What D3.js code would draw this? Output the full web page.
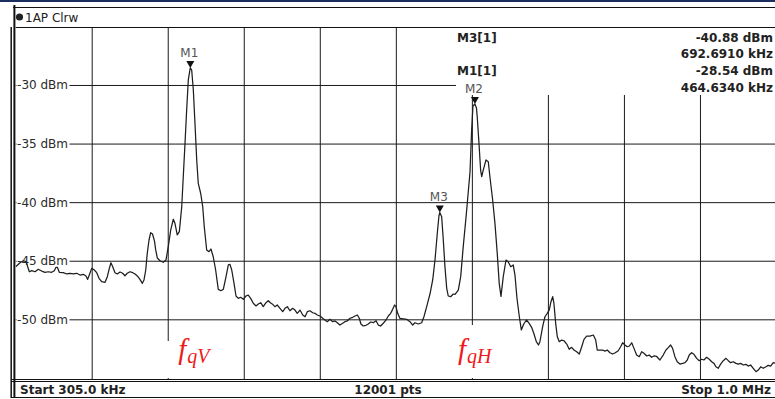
<!DOCTYPE html>
<html>
<head>
<meta charset="utf-8">
<script src="https://cdn.jsdelivr.net/npm/d3@7"></script>
<style>
  body { margin: 0; background: #fff; }
  svg { display: block; font-family: "DejaVu Sans", Verdana, sans-serif; }
</style>
</head>
<body>
<div id="chart"></div>
<script>
// Trace 1 (Clear/Write)
var freqKHz = [305.0, 309.0, 312.0, 314.5, 317.5, 319.7, 322.7, 325.7, 328.8, 331.8,
  334.8, 337.9, 340.3, 341.9, 343.1, 344.9, 348.5, 351.7, 354.7, 357.7,
  360.8, 363.8, 366.8, 369.3, 370.8, 372.3, 374.5, 376.9, 379.1, 381.2,
  383.6, 386.7, 388.8, 390.6, 392.1, 393.7, 395.8, 397.9, 400.4, 402.8,
  404.9, 407.0, 409.5, 412.0, 414.1, 416.2, 418.6, 420.8, 422.3, 423.9,
  425.3, 426.9, 428.4, 430.1, 431.9, 433.0, 434.5, 436.9, 439.9, 442.4,
  444.5, 446.7, 449.1, 450.6, 452.7, 454.6, 456.8, 458.2, 459.8, 461.3,
  462.8, 464.6, 465.9, 467.4, 468.9, 470.5, 471.9, 474.1, 476.0, 477.4,
  479.6, 481.7, 483.5, 485.6, 487.8, 490.2, 492.7, 494.8, 497.3, 499.4,
  500.9, 502.5, 504.6, 506.4, 508.5, 510.7, 513.1, 515.5, 517.6, 519.8,
  522.2, 524.7, 526.8, 529.0, 531.3, 533.8, 535.9, 538.1, 540.2, 542.0,
  544.1, 546.6, 549.1, 551.2, 553.3, 555.7, 558.2, 560.3, 562.4, 564.9,
  567.4, 569.5, 571.6, 574.0, 576.5, 578.6, 580.7, 583.2, 585.6, 587.7,
  589.8, 592.3, 594.8, 596.9, 599.0, 601.4, 603.9, 606.0, 608.1, 610.6,
  613.1, 615.2, 617.3, 619.1, 620.6, 622.7, 625.2, 627.3, 629.5, 631.9,
  634.4, 636.5, 638.6, 641.0, 643.5, 645.6, 647.8, 649.6, 651.4, 652.6,
  654.2, 656.3, 659.3, 662.4, 665.4, 667.9, 670.0, 673.0, 676.1, 678.2,
  680.7, 683.7, 686.2, 688.3, 690.4, 691.9, 692.7, 694.4, 695.9, 697.4,
  699.0, 700.4, 702.6, 705.0, 706.6, 709.6, 711.8, 714.1, 716.6, 718.7,
  720.3, 721.8, 723.0, 724.8, 726.2, 726.9, 728.5, 730.0, 731.0, 732.4,
  734.9, 737.0, 738.5, 741.0, 743.1, 745.2, 747.0, 748.6, 750.7, 753.2,
  755.3, 757.5, 759.8, 761.4, 763.2, 765.3, 767.2, 769.4, 771.9, 774.2,
  776.5, 778.6, 780.9, 782.9, 784.2, 786.7, 788.8, 790.9, 792.7, 794.3,
  795.9, 797.0, 798.6, 800.1, 801.9, 804.1, 806.2, 808.7, 811.0, 813.2,
  815.3, 817.8, 820.2, 822.4, 824.5, 826.9, 829.9, 833.0, 835.2, 836.6,
  839.1, 841.6, 843.7, 845.8, 848.2, 850.7, 853.1, 855.8, 858.0, 859.8,
  861.9, 864.0, 865.9, 868.1, 870.2, 872.6, 875.0, 877.2, 879.3, 881.8,
  884.1, 886.3, 888.4, 890.9, 893.9, 896.9, 899.4, 901.5, 903.7, 905.5,
  907.6, 909.7, 912.2, 914.7, 916.8, 918.9, 920.7, 922.9, 925.0, 927.5,
  929.8, 932.0, 934.1, 936.6, 939.0, 941.2, 943.3, 945.1, 947.2, 949.4,
  951.8, 954.3, 956.4, 958.5, 960.9, 963.4, 965.5, 967.7, 970.1, 972.5,
  974.6, 976.8, 979.2, 981.7, 983.8, 986.0, 988.3, 990.8, 992.9, 995.1,
  997.5, 1000.0];

var levelDbm = [-45.51, -45.17, -45.00, -45.08, -45.94, -45.85, -45.94, -45.73, -45.88, -45.99,
  -45.94, -45.99, -45.85, -45.56, -45.56, -45.99, -46.02, -46.13, -46.07, -46.13,
  -46.07, -46.22, -46.16, -46.30, -46.59, -46.22, -45.65, -45.79, -46.02, -46.50,
  -46.79, -46.84, -46.36, -45.65, -45.17, -45.51, -46.02, -46.13, -45.96, -46.07,
  -46.28, -46.07, -45.94, -46.02, -46.13, -46.30, -46.59, -46.93, -46.64, -45.79,
  -44.37, -43.23, -42.61, -42.72, -43.32, -44.08, -44.77, -45.00, -45.13, -44.94,
  -43.80, -42.38, -41.46, -41.81, -42.80, -42.52, -40.39, -37.83, -34.98, -32.13,
  -29.57, -28.54, -28.72, -30.43, -33.27, -36.40, -38.39, -39.24, -40.39, -42.10,
  -44.08, -44.23, -44.00, -44.66, -45.79, -47.44, -47.56, -47.44, -46.36, -45.36,
  -45.31, -45.79, -46.93, -48.01, -48.21, -48.12, -48.29, -48.01, -47.93, -48.21,
  -48.63, -48.86, -48.69, -48.58, -48.92, -48.58, -48.41, -48.61, -48.74, -48.92,
  -48.78, -49.06, -49.35, -49.06, -48.92, -49.27, -49.06, -49.21, -49.49, -49.21,
  -49.63, -49.78, -49.35, -49.27, -49.44, -49.49, -49.63, -49.72, -49.91, -50.06,
  -50.20, -50.00, -50.20, -50.14, -50.29, -50.49, -50.34, -50.20, -50.14, -49.91,
  -49.83, -49.72, -49.63, -49.91, -50.40, -50.57, -50.51, -50.40, -50.23, -50.29,
  -50.12, -50.49, -50.57, -50.34, -50.06, -49.72, -49.49, -49.15, -48.78, -48.92,
  -49.49, -49.93, -49.96, -50.00, -50.20, -50.49, -50.29, -50.40, -50.29, -49.78,
  -48.92, -47.84, -46.64, -44.94, -42.66, -41.18, -40.88, -41.24, -43.23, -45.51,
  -47.35, -48.01, -48.07, -47.84, -47.87, -47.50, -46.36, -43.80, -41.35, -39.13,
  -37.43, -33.84, -31.79, -31.62, -31.96, -32.71, -34.98, -37.26, -37.83, -37.26,
  -36.40, -36.55, -37.83, -39.82, -41.81, -44.37, -46.93, -48.04, -46.36, -44.94,
  -45.11, -45.51, -45.36, -46.22, -48.18, -49.72, -50.91, -50.40, -50.06, -50.32,
  -50.66, -51.19, -51.91, -52.19, -51.91, -50.63, -49.78, -49.49, -49.21, -48.50,
  -48.07, -48.63, -50.34, -51.49, -51.91, -51.77, -51.83, -52.11, -52.56, -52.39,
  -52.62, -52.77, -52.96, -52.34, -51.71, -51.43, -51.43, -51.34, -51.77, -52.62,
  -52.62, -52.62, -52.71, -52.62, -52.85, -52.96, -52.85, -52.68, -52.34, -52.00,
  -52.19, -52.34, -52.28, -52.00, -52.48, -53.05, -53.19, -52.77, -52.90, -53.13,
  -53.05, -53.24, -53.13, -53.17, -53.47, -53.05, -52.62, -52.42, -52.19, -52.48,
  -53.19, -53.62, -53.82, -53.76, -53.70, -53.47, -53.05, -52.85, -52.99, -53.33,
  -53.53, -53.41, -53.47, -53.24, -53.41, -53.62, -53.76, -54.05, -54.18, -53.82,
  -53.53, -53.33, -53.53, -53.70, -53.62, -53.76, -53.82, -53.76, -53.90, -53.84,
  -53.99, -53.90, -54.18, -54.47, -54.33, -54.05, -54.18, -54.05, -53.93, -53.99,
  -53.70, -53.77];

// Markers
var markerNames = ["M1", "M2", "M3"];
var markerFreq = [464.634, 724.8, 692.691];
var markerLevel = [-28.54, -31.62, -40.88];

// Marker table (left column, right column)
var tableNames = ["M3[1]", "", "M1[1]", ""];
var tableValues = ["-40.88 dBm", "692.6910 kHz", "-28.54 dBm", "464.6340 kHz"];

// Axis setup
var freqStart = 305, freqStop = 1000;
var refTop = -25, refBottom = -55;
var yTicks = [-30, -35, -40, -45, -50];
var freqGrid = [374.5, 444, 513.5, 583, 652.5, 722, 791.5, 861, 930.5];
var statusLabels = ["Start 305.0 kHz", "12001 pts", "Stop 1.0 MHz"];
var traceTitle = "1AP Clrw";

var svgWidth = 775;
var svgHeight = 399;

// plot area inside the window
var plot = { left: 15.66, right: 776, top: 27, bottom: 380 };

var svg = d3.select("#chart")
  .append("svg")
  .attr("width", svgWidth)
  .attr("height", svgHeight);

var xScale = d3.scaleLinear()
  .domain([freqStart, freqStop])
  .range([plot.left, plot.right]);

var yScale = d3.scaleLinear()
  .domain([refTop, refBottom])
  .range([26.4, 377.9]);

// Step 1: window frame and header
svg.append("rect")
  .attr("x", 0).attr("y", 0)
  .attr("width", svgWidth).attr("height", 2)
  .attr("fill", "#1d2f5e");

svg.append("line")
  .attr("x1", 13).attr("x2", svgWidth)
  .attr("y1", 7.5).attr("y2", 7.5)
  .attr("stroke", "#111");

svg.append("circle")
  .attr("cx", 19.5).attr("cy", 17)
  .attr("r", 3.6)
  .attr("fill", "#222");

svg.append("text")
  .attr("x", 25).attr("y", 21.5)
  .attr("font-size", "12px")
  .attr("fill", "#222")
  .text(traceTitle);

// Step 2: grid
var gridGroup = svg.append("g");

gridGroup.append("g")
  .attr("transform", "translate(0," + plot.bottom + ")")
  .call(d3.axisBottom(xScale)
    .tickValues(freqGrid)
    .tickSize(-(plot.bottom - plot.top))
    .tickFormat(""))
  .call(g => g.select(".domain").remove())
  .selectAll("line")
  .attr("stroke", "#1a1a1a");

gridGroup.append("g")
  .attr("transform", "translate(" + plot.left + ",0)")
  .call(d3.axisLeft(yScale)
    .tickValues(yTicks)
    .tickSize(-(plot.right - plot.left))
    .tickFormat(""))
  .call(g => g.select(".domain").remove())
  .selectAll("line")
  .attr("stroke", "#1a1a1a");

// white box of the marker table hides the grid under it
svg.append("rect")
  .attr("x", 456).attr("y", plot.top + 1)
  .attr("width", svgWidth - 456).attr("height", 95 - plot.top - 1)
  .attr("fill", "#fff");

// Step 3: level labels
var yLabels = svg.append("g").selectAll("g")
  .data(yTicks)
  .enter()
  .append("g");

yLabels.append("rect")
  .attr("x", 16.5)
  .attr("y", d => yScale(d) - 6)
  .attr("width", 53)
  .attr("height", 12)
  .attr("fill", "#fff");

yLabels.append("text")
  .attr("x", 68)
  .attr("y", d => yScale(d) + 4.5)
  .attr("text-anchor", "end")
  .attr("font-size", "12px")
  .attr("fill", "#2a2a2a")
  .text(d => d + " dBm");

// Step 4: red annotations under the peaks
var notes = [
  { sub: "qV", x: xScale(markerFreq[0]) - 12, top: 341, boxX: 160, boxW: 62 },
  { sub: "qH", x: xScale(markerFreq[1]) - 17, top: 325, boxX: 452, boxW: 46 }
];

notes.forEach(function(n) {
  svg.append("rect")
    .attr("x", n.boxX).attr("y", n.top)
    .attr("width", n.boxW).attr("height", 378 - n.top)
    .attr("fill", "#fff");
  var t = svg.append("text")
    .attr("x", n.x).attr("y", 359)
    .attr("font-family", "'Liberation Serif', 'DejaVu Serif', serif")
    .attr("font-style", "italic")
    .attr("font-size", "29px")
    .attr("fill", "#f01818");
  t.append("tspan").text("f");
  t.append("tspan")
    .attr("dy", 4)
    .attr("dx", 1)
    .attr("font-size", "20px")
    .text(n.sub);
});

// Step 5: trace
svg.append("clipPath")
  .attr("id", "plotClip")
  .append("rect")
  .attr("x", plot.left).attr("y", plot.top)
  .attr("width", plot.right - plot.left).attr("height", plot.bottom - plot.top);

var traceData = d3.zip(freqKHz, levelDbm);

var traceLine = d3.line()
  .x(d => xScale(d[0]))
  .y(d => yScale(d[1]));

svg.append("path")
  .datum(traceData)
  .attr("clip-path", "url(#plotClip)")
  .attr("d", traceLine)
  .attr("fill", "none")
  .attr("stroke", "#1e1e1e")
  .attr("stroke-width", 1.25)
  .attr("stroke-linejoin", "round");

// Step 6: markers
var markers = svg.append("g").selectAll("g")
  .data(markerNames.map((m, i) => ({ name: m, f: markerFreq[i], l: markerLevel[i] })))
  .enter()
  .append("g");

markers.append("path")
  .attr("d", function(d) {
    var mx = xScale(d.f), my = yScale(d.l);
    return "M" + (mx - 4) + "," + (my - 7) + "L" + (mx + 4) + "," + (my - 7) + "L" + mx + "," + my + "Z";
  })
  .attr("fill", "#111");

markers.append("text")
  .attr("x", d => xScale(d.f) - 1)
  .attr("y", d => yScale(d.l) - 11)
  .attr("text-anchor", "middle")
  .attr("font-size", "12px")
  .attr("fill", "#555")
  .text(d => d.name);

// Step 7: marker table
var rowY = [41.5, 58.2, 74.8, 91.5];

svg.append("g").selectAll("text")
  .data(tableNames)
  .enter()
  .append("text")
  .attr("x", 457)
  .attr("y", (d, i) => rowY[i])
  .attr("font-size", "12px")
  .attr("font-weight", "bold")
  .attr("fill", "#222")
  .text(d => d);

svg.append("g").selectAll("text")
  .data(tableValues)
  .enter()
  .append("text")
  .attr("x", 773)
  .attr("y", (d, i) => rowY[i])
  .attr("text-anchor", "end")
  .attr("font-size", "12px")
  .attr("font-weight", "bold")
  .attr("fill", "#222")
  .text(d => d);

// Step 8: plot borders and status bar
svg.append("line")
  .attr("x1", plot.left).attr("x2", svgWidth)
  .attr("y1", 27.5).attr("y2", 27.5)
  .attr("stroke", "#111");

svg.append("line")
  .attr("x1", 11).attr("x2", svgWidth)
  .attr("y1", 379.5).attr("y2", 379.5)
  .attr("stroke", "#111");

svg.append("line")
  .attr("x1", 11).attr("x2", svgWidth)
  .attr("y1", 381.5).attr("y2", 381.5)
  .attr("stroke", "#111");

svg.append("line")
  .attr("x1", 11).attr("x2", svgWidth)
  .attr("y1", 397.5).attr("y2", 397.5)
  .attr("stroke", "#111");

svg.append("line")
  .attr("x1", 11.2).attr("x2", 11.2)
  .attr("y1", 27).attr("y2", 398)
  .attr("stroke", "#111")
  .attr("stroke-width", 1.5);

svg.append("line")
  .attr("x1", 14.4).attr("x2", 14.4)
  .attr("y1", 5).attr("y2", 398)
  .attr("stroke", "#111")
  .attr("stroke-width", 2);

var statusX = [20, 388, 771];
var statusAnchor = ["start", "middle", "end"];

svg.append("g").selectAll("text")
  .data(statusLabels)
  .enter()
  .append("text")
  .attr("x", (d, i) => statusX[i])
  .attr("y", 394)
  .attr("text-anchor", (d, i) => statusAnchor[i])
  .attr("font-size", "12px")
  .attr("font-weight", "bold")
  .attr("fill", "#222")
  .text(d => d);
</script>
</body>
</html>
